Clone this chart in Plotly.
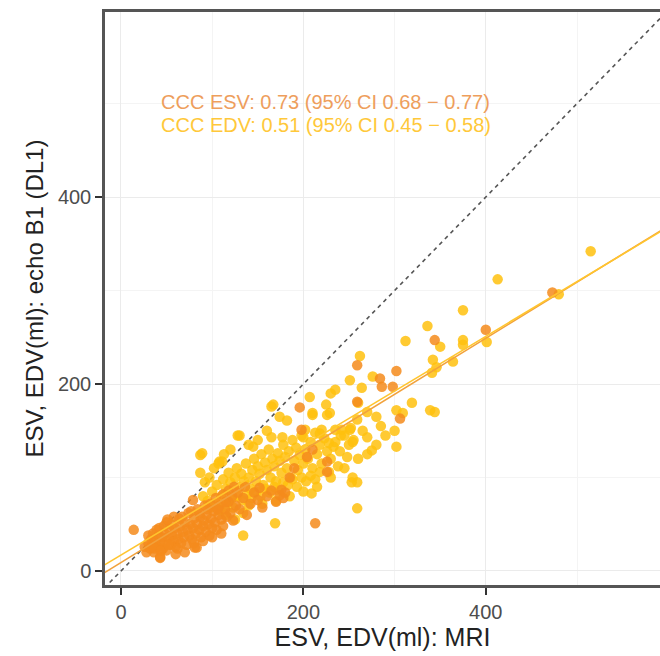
import plotly.graph_objects as go

# End-systolic volumes: MRI (x) vs echo B1 DL1 (y), ml
esv_mri = [26, 28, 30, 32, 33, 35, 36, 38, 40, 41, 43, 43, 45, 46, 48, 49, 50, 52, 53, 55,
           56, 58, 59, 60, 62, 63, 65, 66, 68, 69, 70, 72, 73, 75, 76, 78, 79, 80, 82, 83,
           84, 86, 87, 88, 90, 91, 93, 94, 96, 97, 99, 100, 102, 103, 105, 107, 108, 110, 112, 114,
           116, 118, 120, 123, 126, 130, 134, 138, 142, 146, 150, 152, 155, 160, 165, 170, 174, 176, 178, 14,
           81, 43, 35, 42, 50, 58, 64, 74, 84, 92, 98, 104, 112, 118, 124, 60, 70, 80, 90, 100,
           110, 55, 47, 39, 30, 37, 44, 52, 62, 67, 77, 86, 95, 106, 115, 122, 128, 136, 51, 79,
           196, 198, 204, 226, 226, 213, 259, 259, 302, 284, 286, 298, 306, 344, 400, 473, 180, 185, 190, 210]
esv_echo = [26, 20, 30, 24, 34, 28, 20, 32, 26, 38, 15, 30, 36, 24, 40, 30, 22, 36, 44, 28,
            38, 32, 46, 26, 40, 34, 48, 30, 42, 36, 52, 28, 44, 38, 50, 34, 46, 56, 40, 25,
            50, 44, 58, 36, 48, 54, 42, 60, 50, 38, 56, 46, 64, 52, 44, 60, 70, 55, 48, 66,
            58, 74, 62, 54, 70, 66, 78, 60, 72, 84, 76, 89, 68, 80, 86, 74, 81, 87, 78, 44,
            25, 14, 40, 46, 52, 58, 56, 62, 66, 70, 72, 78, 82, 86, 90, 18, 20, 30, 32, 36,
            40, 50, 48, 44, 38, 24, 22, 28, 24, 58, 64, 62, 66, 66, 74, 80, 84, 90, 55, 76,
            175, 151, 122, 117, 106, 51, 181, 220, 214, 206, 197, 197, 163, 247, 258, 298, 84, 100, 110, 130]

# End-diastolic volumes: MRI (x) vs echo B1 DL1 (y), ml
edv_mri = [515, 480, 413, 375, 336, 312, 350, 375, 375, 401, 262, 251, 276, 264, 207, 235, 230, 342, 346, 341,
           364, 319, 344, 302, 309, 280, 270, 260, 270, 275, 302, 251, 254, 235, 233, 210, 229, 254, 202, 200,
           259, 259, 209, 169, 134, 87, 87, 128, 167, 111, 134, 165, 210, 226, 225, 174, 182, 130, 165, 177,
           145, 220, 218, 228, 241, 242, 252, 259, 89, 108, 253,
           100, 105, 110, 112, 115, 118, 120, 122, 125, 127, 130, 132, 135, 137, 140, 142, 144, 146, 148, 150,
           152, 154, 156, 158, 160, 162, 164, 166, 168, 170, 172, 174, 176, 178, 180, 182, 184, 186, 188, 190,
           192, 194, 196, 198, 200, 202, 205, 208, 210, 213, 215, 218, 220, 223, 226, 230, 235, 240, 245, 250,
           95, 98, 103, 108, 113, 118, 123, 128, 133, 138, 143, 148, 153, 158, 163, 168, 173, 178, 183, 188,
           193, 198, 203, 208, 213, 218, 90, 92, 97, 102, 107, 113, 120, 140, 150, 160, 115, 125, 140, 155,
           170, 185, 200, 215, 230, 245, 260, 270, 280, 290, 300, 285, 265, 255, 248, 238, 228, 339]
edv_echo = [342, 296, 312, 279, 262, 246, 240, 247, 242, 245, 230, 204, 208, 196, 186, 194, 190, 226, 218, 212,
            224, 180, 170, 172, 169, 165, 170, 180, 143, 129, 133, 151, 138, 151, 133, 169, 169, 100, 151, 143,
            95, 67, 83, 51, 38, 124, 105, 145, 178, 117, 62, 176, 167, 167, 178, 165, 161, 145, 143, 143,
            133, 151, 147, 137, 145, 151, 153, 162, 126, 117, 95,
            85, 92, 80, 98, 88, 105, 95, 78, 100, 110, 90, 104, 96, 115, 100, 88, 108, 120, 96, 112,
            104, 125, 92, 116, 108, 130, 100, 120, 112, 96, 126, 118, 105, 135, 122, 110, 128, 100, 140, 118,
            132, 108, 124, 145, 115, 130, 120, 138, 110, 148, 125, 135, 115, 142, 128, 120, 138, 128, 145, 135,
            75, 68, 72, 65, 70, 74, 68, 80, 76, 82, 78, 85, 80, 88, 84, 90, 86, 95, 92, 98,
            90, 100, 96, 102, 98, 106, 80, 95, 100, 110, 115, 125, 130, 135, 140, 150, 60, 55, 70, 72,
            75, 80, 85, 90, 100, 110, 120, 125, 135, 145, 150, 155, 150, 140, 122, 112, 106, 172]

# Linear fits (intercept, slope) for each volume
esv_fit = [9.0, 0.600]
edv_fit = [17.0, 0.585]

ccc_labels = ["CCC ESV: 0.73 (95% CI 0.68 \u2212 0.77)",
              "CCC EDV: 0.51 (95% CI 0.45 \u2212 0.58)"]

x_range = [-17.5, 591]
y_range = [-15, 598]

ESV_COL = "#F58B1C"
EDV_COL = "#FFC10E"

fig = go.Figure()

# identity line
fig.add_trace(go.Scatter(
    x=[x_range[0] - 50, x_range[1] + 50], y=[x_range[0] - 50, x_range[1] + 50],
    mode="lines", line=dict(color="#555555", width=1.6, dash="4px,4px"),
    hoverinfo="skip", showlegend=False))

fig.add_trace(go.Scatter(
    x=edv_mri, y=edv_echo, mode="markers",
    marker=dict(size=10.5, color=EDV_COL, opacity=0.85, line=dict(width=0)),
    name="EDV", showlegend=False))
fig.add_trace(go.Scatter(
    x=esv_mri, y=esv_echo, mode="markers",
    marker=dict(size=10.5, color=ESV_COL, opacity=0.85, line=dict(width=0)),
    name="ESV", showlegend=False))

xs = [x_range[0] - 5, x_range[1] + 5]
fig.add_trace(go.Scatter(
    x=xs, y=[esv_fit[0] + esv_fit[1] * v for v in xs], mode="lines",
    line=dict(color="#F2A23C", width=1.6), hoverinfo="skip", showlegend=False))
fig.add_trace(go.Scatter(
    x=xs, y=[edv_fit[0] + edv_fit[1] * v for v in xs], mode="lines",
    line=dict(color="#FFC52E", width=1.6), hoverinfo="skip", showlegend=False))

fig.add_annotation(x=42, y=502, xref="x", yref="y", text=ccc_labels[0],
                   showarrow=False, xanchor="left", yanchor="middle",
                   font=dict(size=20, color="#EE9E5C"))
fig.add_annotation(x=42, y=477, xref="x", yref="y", text=ccc_labels[1],
                   showarrow=False, xanchor="left", yanchor="middle",
                   font=dict(size=20, color="#FFC83A"))

axis_common = dict(
    showgrid=True, gridcolor="#EBEBEB", gridwidth=1,
    zeroline=False, showline=True, linecolor="#555555", linewidth=2.5,
    ticks="outside", ticklen=7, tickwidth=1.5, tickcolor="#333333",
    tickfont=dict(size=20, color="#4D4D4D"),
    minor=dict(showgrid=True, gridcolor="#F4F4F4", gridwidth=1, dtick=100),
)

fig.update_layout(
    width=660, height=656,
    margin=dict(l=105, r=0, t=12, b=71),
    paper_bgcolor="white", plot_bgcolor="white",
    font=dict(family="Liberation Sans, Arial, sans-serif", color="#222222"),
    xaxis=dict(range=x_range, dtick=200, tick0=0, mirror=True,
               title=dict(text="ESV, EDV(ml): MRI", font=dict(size=25, color="#222222"), standoff=4),
               **axis_common),
    yaxis=dict(range=y_range, dtick=200, tick0=0,
               title=dict(text="ESV, EDV(ml): echo B1 (DL1)", font=dict(size=24, color="#222222"), standoff=8),
               **axis_common),
)

fig.write_html("out.html")
